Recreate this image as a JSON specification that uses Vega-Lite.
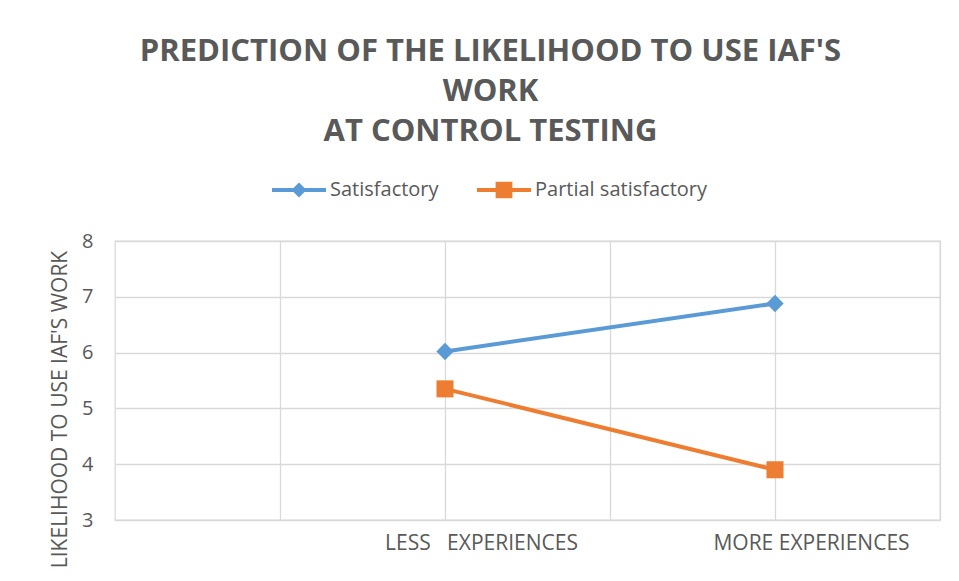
{
  "$schema": "https://vega.github.io/schema/vega-lite/v6.json",
  "width": 825,
  "height": 279,
  "autosize": {"type": "none"},
  "padding": {"left": 115, "top": 241, "right": 19, "bottom": 61},
  "background": "white",
  "title": {
    "text": ["PREDICTION OF THE LIKELIHOOD TO USE IAF'S", "WORK", "AT CONTROL TESTING"],
    "font": "Open Sans",
    "fontSize": 31,
    "fontWeight": "bold",
    "color": "#595959",
    "lineHeight": 40,
    "anchor": "middle",
    "dx": -37,
    "offset": 15
  },
  "data": {
    "values": [
      {"experience": "LESS\u00a0\u00a0\u00a0EXPERIENCES", "series": "Satisfactory", "likelihood": 6.02},
      {"experience": "MORE EXPERIENCES", "series": "Satisfactory", "likelihood": 6.88},
      {"experience": "LESS\u00a0\u00a0\u00a0EXPERIENCES", "series": "Partial satisfactory", "likelihood": 5.35},
      {"experience": "MORE EXPERIENCES", "series": "Partial satisfactory", "likelihood": 3.9}
    ]
  },
  "config": {
    "view": {"stroke": "#d9d9d9", "strokeWidth": 1.3},
    "axis": {"gridColor": "#d9d9d9", "gridWidth": 1.3, "gridOpacity": 1}
  },
  "encoding": {
    "y": {
      "field": "likelihood",
      "type": "quantitative",
      "scale": {"domain": [3, 8], "nice": false, "zero": false},
      "axis": {
        "values": [3, 4, 5, 6, 7, 8],
        "grid": true,
        "domain": false,
        "ticks": false,
        "labelFont": "Open Sans",
        "labelFontSize": 20,
        "labelColor": "#595959",
        "labelPadding": 22,
        "title": "LIKELIHOOD TO USE IAF'S WORK",
        "titleFont": "Open Sans",
        "titleFontSize": 21,
        "titleFontWeight": "normal",
        "titleColor": "#595959",
        "titleX": -45,
        "titleY": 168
      }
    },
    "color": {
      "field": "series",
      "type": "nominal",
      "scale": {"domain": ["Satisfactory", "Partial satisfactory"], "range": ["#5B9BD5", "#ED7D31"]},
      "legend": {
        "orient": "none",
        "legendX": 157,
        "legendY": -78,
        "direction": "horizontal",
        "title": null,
        "padding": 0,
        "symbolSize": 2916,
        "symbolStrokeWidth": 0,
        "symbolOpacity": 1,
        "labelFont": "Open Sans",
        "labelFontSize": 20,
        "labelColor": "#595959",
        "labelOffset": 4,
        "labelLimit": 400,
        "columnPadding": 38,
        "encode": {
          "symbols": {
            "update": {
              "shape": {"signal": "datum.value === 'Satisfactory' ? 'M-1,-0.07L1,-0.07L1,0.07L-1,0.07Z M0,-0.28L0.28,0L0,0.28L-0.28,0Z' : 'M-1,-0.07L1,-0.07L1,0.07L-1,0.07Z M-0.31,-0.31L0.31,-0.31L0.31,0.31L-0.31,0.31Z'"},
              "fill": {"scale": "color", "field": "value"},
              "strokeWidth": {"value": 0},
              "opacity": {"value": 1}
            }
          }
        }
      }
    }
  },
  "layer": [
    {
      "mark": {"type": "line", "strokeWidth": 4},
      "encoding": {
        "x": {
          "field": "experience",
          "type": "nominal",
          "sort": null,
          "scale": {"type": "band", "domain": ["LESS\u00a0\u00a0\u00a0EXPERIENCES", "MORE EXPERIENCES"], "paddingInner": 0, "paddingOuter": 0.25, "align": 1},
          "axis": {
            "orient": "bottom",
            "tickBand": "extent",
            "grid": true,
            "domain": false,
            "ticks": false,
            "labelAngle": 0,
            "labelFont": "Open Sans",
            "labelFontSize": 21,
            "labelColor": "#595959",
            "labelPadding": 12,
            "labelOffset": 36,
            "labelLimit": 400,
            "title": null
          }
        }
      }
    },
    {
      "transform": [{"filter": "datum.series === 'Satisfactory'"}],
      "mark": {"type": "point", "shape": "diamond", "filled": true, "opacity": 1, "size": 300},
      "encoding": {
        "x": {
          "field": "experience",
          "type": "nominal",
          "sort": null,
          "scale": {"type": "band", "domain": ["LESS\u00a0\u00a0\u00a0EXPERIENCES", "MORE EXPERIENCES"], "paddingInner": 0, "paddingOuter": 0.25, "align": 1},
          "axis": {
            "orient": "bottom",
            "grid": true,
            "labels": false,
            "domain": false,
            "ticks": false,
            "title": null
          }
        }
      }
    },
    {
      "transform": [{"filter": "datum.series === 'Partial satisfactory'"}],
      "mark": {"type": "point", "shape": "square", "filled": true, "opacity": 1, "size": 290},
      "encoding": {
        "x": {
          "field": "experience",
          "type": "nominal",
          "sort": null,
          "scale": {"type": "band", "domain": ["LESS\u00a0\u00a0\u00a0EXPERIENCES", "MORE EXPERIENCES"], "paddingInner": 0, "paddingOuter": 0.25, "align": 1},
          "axis": null
        }
      }
    }
  ],
  "resolve": {"axis": {"x": "independent"}}
}
